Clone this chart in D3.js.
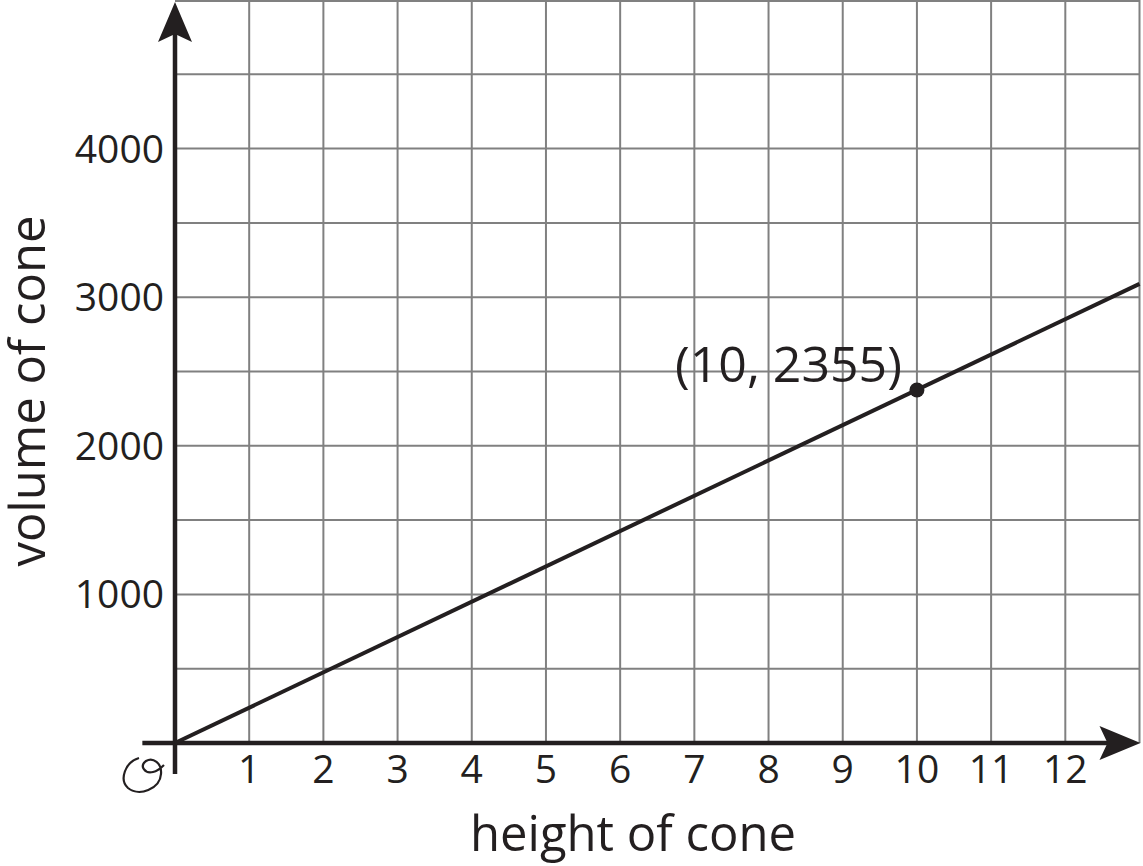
<!DOCTYPE html>
<html>
<head>
<meta charset="utf-8">
<script src="https://cdn.jsdelivr.net/npm/d3@7"></script>
<style>
  html, body { margin: 0; padding: 0; background: #fff; }
  svg { display: block; }
  text { font-family: "Open Sans", "Noto Sans", sans-serif; fill: #231f20; }
</style>
</head>
<body>
<svg id="chart" width="1143" height="866"></svg>
<script>
// ---- data ----
const xTicks = [1, 2, 3, 4, 5, 6, 7, 8, 9, 10, 11, 12];
const yTicks = [1000, 2000, 3000, 4000];
const xGrid = [1, 2, 3, 4, 5, 6, 7, 8, 9, 10, 11, 12, 13];
const yGrid = [500, 1000, 1500, 2000, 2500, 3000, 3500, 4000, 4500, 5000];
const lineX = [0, 13];
const lineY = [0, 3090];
const pointX = [10];
const pointY = [2355];
const pointLabel = ["(10, 2355)"];
const xTitle = "height of cone";
const yTitle = "volume of cone";

// ---- layout ----
const svg = d3.select("#chart");
const x = d3.scaleLinear().domain([0, 13]).range([175, 1139.5]);
const y = d3.scaleLinear().domain([0, 5000]).range([743, 0]);
const ink = "#231f20";
const gridColor = "#808080";

// grid
svg.append("g").selectAll("line").data(xGrid).join("line")
  .attr("x1", d => x(d)).attr("x2", d => x(d))
  .attr("y1", y(0)).attr("y2", y(5000))
  .attr("stroke", gridColor).attr("stroke-width", 2);
svg.append("g").selectAll("line").data(yGrid).join("line")
  .attr("x1", x(0)).attr("x2", x(13))
  .attr("y1", d => y(d) + (d === 5000 ? 1 : 0)).attr("y2", d => y(d) + (d === 5000 ? 1 : 0))
  .attr("stroke", gridColor).attr("stroke-width", 2);

// axes lines
svg.append("line")
  .attr("x1", x(-0.44)).attr("x2", x(12.6))
  .attr("y1", y(0)).attr("y2", y(0))
  .attr("stroke", ink).attr("stroke-width", 4.5);
svg.append("line")
  .attr("x1", x(0)).attr("x2", x(0))
  .attr("y1", y(0) + 31).attr("y2", y(4800))
  .attr("stroke", ink).attr("stroke-width", 4.5);

// arrowheads
const xTipX = x(13) + 1, xTipY = y(0);
svg.append("path")
  .attr("d", `M${xTipX},${xTipY} L${xTipX - 41},${xTipY - 17} L${xTipX - 33},${xTipY} L${xTipX - 41},${xTipY + 17} Z`)
  .attr("fill", ink);
const yTipX = x(0), yTipY = 2;
svg.append("path")
  .attr("d", `M${yTipX},${yTipY} L${yTipX - 17},${yTipY + 40} L${yTipX},${yTipY + 32} L${yTipX + 17},${yTipY + 40} Z`)
  .attr("fill", ink);

// tick labels
svg.append("g").selectAll("text").data(xTicks).join("text")
  .attr("x", d => x(d)).attr("y", 783)
  .attr("text-anchor", "middle")
  .attr("font-size", 39)
  .text(d => d);
svg.append("g").selectAll("text").data(yTicks).join("text")
  .attr("x", 164).attr("y", d => y(d) + 14)
  .attr("text-anchor", "end")
  .attr("font-size", 39)
  .text(d => d);

// origin script zero
svg.append("path")
  .attr("d", "M139,758 C125,762 119,780 128,788 C139,797 160,789 161,774 C162,763 153,757 146,761 C139,766 145,774 153,772 C158,771 161,768 164,765")
  .attr("fill", "none").attr("stroke", ink).attr("stroke-width", 2.2);

// data line
const lineData = lineX.map((v, i) => [v, lineY[i]]);
svg.append("path")
  .datum(lineData)
  .attr("d", d3.line().x(d => x(d[0])).y(d => y(d[1])))
  .attr("fill", "none").attr("stroke", ink).attr("stroke-width", 4);

// point
const pts = pointX.map((v, i) => ({x: v, y: pointY[i], label: pointLabel[i]}));
svg.append("g").selectAll("circle").data(pts).join("circle")
  .attr("cx", d => x(d.x)).attr("cy", d => y(d.y) - 3)
  .attr("r", 7.5).attr("fill", ink);
svg.append("g").selectAll("text").data(pts).join("text")
  .attr("x", d => x(d.x) - 15).attr("y", d => y(d.y) - 11)
  .attr("text-anchor", "end")
  .attr("font-size", 50)
  .text(d => d.label);

// axis titles
svg.append("text")
  .attr("x", 633).attr("y", 851)
  .attr("text-anchor", "middle")
  .attr("font-size", 49)
  .text(xTitle);
svg.append("text")
  .attr("transform", "translate(45,391) rotate(-90)")
  .attr("text-anchor", "middle")
  .attr("font-size", 49)
  .text(yTitle);
</script>
</body>
</html>
